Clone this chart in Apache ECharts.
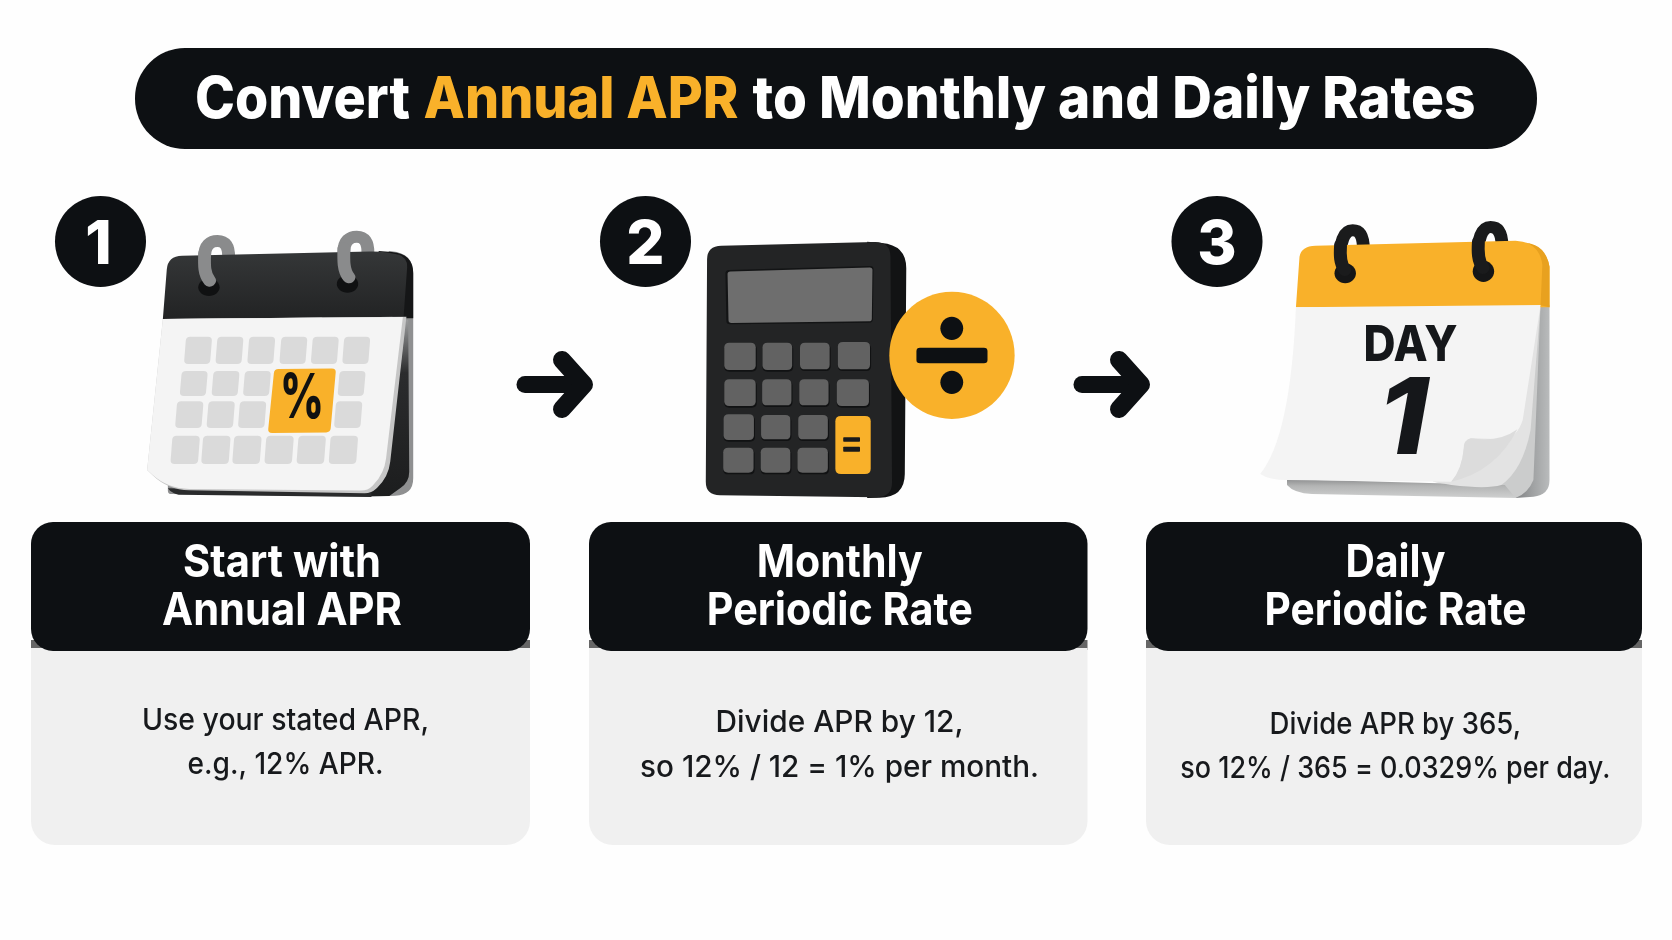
<!DOCTYPE html>
<html>
<head>
<meta charset="utf-8">
<style>html,body{margin:0;padding:0;background:#fefefe}#chart-container{width:1672px;height:940px}</style>
<script src="https://cdn.jsdelivr.net/npm/echarts@6/dist/echarts.min.js"></script>
</head>
<body>
<div id="chart-container"></div>
<script>
var titleRuns = ['Convert', 'Annual APR', 'to Monthly and Daily Rates'];
var stepNumbers = ['1', '2', '3'];
var headerLines = [['Start with', 'Annual APR'], ['Monthly', 'Periodic Rate'], ['Daily', 'Periodic Rate']];
var bodyLines = [
  ['Use your stated APR,', 'e.g., 12% APR.'],
  ['Divide APR by 12,', 'so 12% / 12 = 1% per month.'],
  ['Divide APR by 365,', 'so 12% / 365 = 0.0329% per day.']
];
var dayLabel = 'DAY';
var dayNumber = '1';
var percentSign = '%';

var BLACK = '#0d1013';
var AMBER = '#f9b12a';
var FONT = 'Inter';

var dom = document.getElementById('chart-container');
var myChart = echarts.init(dom, null, { renderer: 'canvas' });

// small path shape, the graphic component has no plain svg-like path
echarts.graphic.registerShape('sketch', echarts.graphic.extendShape({
  type: 'sketch',
  shape: { d: '' },
  buildPath: function (ctx, shape) {
    var t = shape.d.trim().split(/\s+/);
    var i = 0;
    while (i < t.length) {
      var c = t[i++];
      if (c === 'M') { ctx.moveTo(+t[i], +t[i + 1]); i += 2; }
      else if (c === 'L') { ctx.lineTo(+t[i], +t[i + 1]); i += 2; }
      else if (c === 'Q') { ctx.quadraticCurveTo(+t[i], +t[i + 1], +t[i + 2], +t[i + 3]); i += 4; }
      else if (c === 'C') { ctx.bezierCurveTo(+t[i], +t[i + 1], +t[i + 2], +t[i + 3], +t[i + 4], +t[i + 5]); i += 6; }
      else if (c === 'Z') { ctx.closePath(); }
    }
  }
}));

function path(d, fill, stroke, width) {
  var style = { fill: fill || 'none' };
  if (stroke) {
    style.stroke = stroke;
    style.lineWidth = width;
    style.lineCap = 'round';
    style.lineJoin = 'round';
  }
  return { type: 'sketch', shape: { d: d }, style: style, silent: true };
}

// polygon with rounded corners, each point is [x, y, radius]
function round(pts) {
  var d = '';
  var n = pts.length;
  pts.forEach(function (p, i) {
    var a = pts[(i + n - 1) % n];
    var b = pts[(i + 1) % n];
    var r = p[2] || 0;
    var la = Math.hypot(a[0] - p[0], a[1] - p[1]);
    var lb = Math.hypot(b[0] - p[0], b[1] - p[1]);
    var sx = p[0] + (a[0] - p[0]) * r / la;
    var sy = p[1] + (a[1] - p[1]) * r / la;
    var ex = p[0] + (b[0] - p[0]) * r / lb;
    var ey = p[1] + (b[1] - p[1]) * r / lb;
    d += (i === 0 ? 'M ' : 'L ') + sx + ' ' + sy + ' Q ' + p[0] + ' ' + p[1] + ' ' + ex + ' ' + ey + ' ';
  });
  return d + 'Z';
}

function box(x0, y0, x1, y1, r, skew) {
  var s = skew || 0;
  return round([[x0 + s, y0, r], [x1 + s, y0, r], [x1, y1, r], [x0, y1, r]]);
}

function ellipse(cx, cy, rx, ry, fill) {
  return { type: 'ellipse', shape: { cx: cx, cy: cy, rx: rx, ry: ry }, style: { fill: fill }, silent: true };
}

function grad(x2, y2, stops) {
  return {
    type: 'linear', x: 0, y: 0, x2: x2, y2: y2,
    colorStops: stops.map(function (s) { return { offset: s[0], color: s[1] }; })
  };
}

var meas = document.createElement('canvas').getContext('2d');

// text placed by centre and baseline, squeezed to the width
function label(str, cx, base, size, weight, color, width, italic) {
  var font = (italic ? 'italic ' : '') + weight + ' ' + size + 'px ' + FONT;
  meas.font = font;
  var sx = width ? width / meas.measureText(str).width : 1;
  return {
    type: 'text', x: cx, y: base - 0.364 * size + 3, scaleX: sx, silent: true,
    style: {
      text: str, x: 0, y: 0, align: 'center', verticalAlign: 'middle',
      fontFamily: FONT, fontSize: size, fontWeight: weight, fontStyle: italic ? 'italic' : 'normal', fill: color
    }
  };
}

// the icons are measured in the 2.8x / 3x crops, so each one is a scaled group
function icon(originX, children) {
  return { type: 'group', x: originX, y: 170, scaleX: 1 / 2.8, scaleY: 1 / 3, children: children, silent: true };
}

function calendarOne() {
  var c = [];
  var ring = '#8a8b8c';
  // back sheet, gray with the dark inside
  c.push(path(round([[1090, 243, 0], [1157, 250, 60], [1157, 975, 50], [1040, 980, 0], [470, 972, 10], [470, 900, 0]]), '#8f9091'));
  c.push(path(round([[1137, 450, 0], [1143, 450, 0], [1146, 935, 30], [1090, 978, 0], [1030, 978, 0], [1085, 900, 0]]),
    grad(0, 1, [[0, '#9a9b9c'], [0.3, '#2b2c2d'], [1, '#1c1d1e']])));
  c.push(path('M 470 955 L 1040 965 L 1040 981 L 500 974 Q 480 970 470 955 Z', '#2a2b2c'));
  // ring arches sit behind the header
  c.push(path('M 573 265 C 571 222 592 213 609 213 C 630 213 641 228 640 262', null, ring, 36));
  c.push(path('M 963 250 C 961 210 982 200 999 200 C 1020 200 1031 216 1030 250', null, ring, 36));
  c.push(path(round([[1060, 243, 0], [1157, 250, 60], [1157, 445, 0], [1100, 445, 0]]), '#151617'));
  c.push(path(round([[456, 447, 0], [470, 258, 40], [1085, 243, 50], [1142, 262, 30], [1130, 440, 0]]),
    grad(0, 1, [[0, '#353738'], [1, '#222324']])));
  c.push(ellipse(585, 352, 30, 26, '#101112'));
  c.push(ellipse(973, 342, 30, 26, '#101112'));
  c.push(path('M 587 332 C 571 312 572 285 573 250', null, ring, 36));
  c.push(path('M 977 322 C 961 302 962 270 963 235', null, ring, 36));
  // page with its gray edge
  c.push(path(round([[456, 447, 0], [1138, 440, 0], [1088, 920, 45], [1040, 970, 20], [470, 960, 60], [412, 900, 0]]), '#c6c6c6'));
  c.push(path(round([[456, 447, 0], [1128, 441, 0], [1076, 910, 45], [1030, 962, 20], [470, 956, 60], [412, 900, 0]]), '#f4f4f4'));
  var rows = [
    { y0: 500, y1: 582, xs: [515, 603, 692, 782, 870, 958], w: 73 },
    { y0: 603, y1: 678, xs: [503, 592, 680, null, null, 945], w: 73 },
    { y0: 694, y1: 774, xs: [490, 578, 666, null, null, 935], w: 74 },
    { y0: 797, y1: 882, xs: [477, 563, 650, 740, 830, 920], w: 77 }
  ];
  rows.forEach(function (row) {
    row.xs.forEach(function (x) {
      if (x !== null) c.push(path(box(x, row.y0, x + row.w, row.y1, 12, 6), '#dadada'));
    });
  });
  c.push(path(round([[768, 597, 12], [941, 595, 12], [925, 787, 12], [750, 789, 12]]), AMBER));
  return icon(0, c);
}

function calculator() {
  var c = [];
  c.push(path(round([[860, 215, 0], [970, 225, 70], [965, 982, 70], [860, 984, 0]]), '#121314'));
  c.push(path(round([[412, 228, 40], [925, 215, 45], [930, 982, 45], [408, 975, 40]]), '#232425'));
  c.push(path(round([[463, 300, 10], [878, 288, 10], [876, 458, 10], [466, 463, 10]]), '#131415'));
  c.push(path(round([[469, 305, 8], [875, 292, 8], [873, 454, 8], [472, 459, 8]]), '#6e6e6e'));
  var keys = [
    [460, 518, 548, 600], [567, 518, 650, 600], [672, 518, 755, 598], [778, 516, 868, 598],
    [460, 628, 548, 708], [566, 628, 648, 706], [670, 628, 752, 706], [775, 628, 865, 708],
    [458, 733, 543, 810], [563, 735, 645, 808], [667, 735, 750, 808],
    [457, 833, 542, 908], [562, 833, 645, 908], [665, 833, 750, 908]
  ];
  keys.forEach(function (k) {
    c.push(path(box(k[0], k[1] + 5, k[2] + 3, k[3] + 5, 14), '#111213'));
    c.push(path(box(k[0], k[1], k[2], k[3], 14), '#626262'));
  });
  c.push(path(box(771, 738, 870, 912, 16), AMBER));
  c.push(path(box(793, 802, 840, 815, 2), '#1a1a1a'));
  c.push(path(box(793, 830, 840, 845, 2), '#1a1a1a'));
  c.push(ellipse(1097.5, 556, 175.5, 191, AMBER));
  c.push(path(box(998, 533, 1197, 580, 10), BLACK));
  c.push(ellipse(1097, 475, 32, 35, BLACK));
  c.push(ellipse(1097, 637, 32, 35, BLACK));
  return icon(560, c);
}

function calendarThree() {
  var c = [];
  var ring = '#1a1b1c';
  // back sheet and the stack of pages
  c.push(path('M 1150 400 L 1225 405 L 1225 930 Q 1225 975 1180 980 L 1130 984 Z', grad(1, 0, [[0, '#808284'], [0.5, '#9fa1a2'], [1, '#b9bbbc']])));
  c.push(path('M 1200 405 L 1180 930 Q 1165 970 1130 984 L 1050 960 L 900 935 Z', '#cbcccc'));
  c.push(path('M 490 928 L 1100 945 L 1130 984 L 560 972 Q 510 970 490 945 Z', grad(0, 1, [[0, '#8f9091'], [0.35, '#b3b4b4'], [1, '#cfd0d0']])));
  c.push(path('M 1200 405 L 1172 780 Q 1150 900 1090 945 Q 1050 958 950 945 L 900 935 Z', '#e3e3e3'));
  // ring arches sit behind the amber header
  c.push(path('M 640 290 C 634 212 652 181 674 181 C 695 181 704 198 704 240', null, ring, 36));
  c.push(path('M 1026 280 C 1020 202 1038 171 1060 171 C 1081 171 1092 188 1092 230', null, ring, 36));
  c.push(path('M 515 412 L 525 260 Q 530 228 570 227 L 1130 212 Q 1215 220 1225 290 L 1225 412 Z', AMBER));
  c.push(path('M 1160 218 Q 1215 225 1225 290 L 1225 412 L 1200 406 L 1205 285 Q 1200 235 1160 218 Z', '#e8a11f'));
  c.push(ellipse(653, 310, 30, 30, '#151617'));
  c.push(ellipse(1040, 304, 30, 32, '#151617'));
  c.push(path('M 652 300 C 638 280 638 255 640 225', null, ring, 36));
  c.push(path('M 1039 294 C 1024 272 1024 245 1026 215', null, ring, 36));
  // front page with the curled corner
  c.push(path('M 515 412 L 1200 405 L 1150 750 Q 1135 800 1100 808 L 1005 805 Q 985 810 985 835 Q 980 900 950 935 L 490 930 Q 440 930 415 912 Q 500 800 515 412 Z', '#f4f4f4'));
  c.push(path('M 1005 805 Q 1085 818 1135 778 Q 1075 905 950 935 Q 980 900 985 835 Q 985 810 1005 805 Z', '#dcdcdc'));
  return icon(1112, c);
}

var elements = [];

// title pill and the three title runs
elements.push({ type: 'rect', shape: { x: 135, y: 48, width: 1402, height: 101, r: 50 }, style: { fill: BLACK }, silent: true });
elements.push(label(titleRuns[0], 302.5, 119, 58, 800, '#ffffff', 215));
elements.push(label(titleRuns[1], 581, 119, 58, 800, AMBER, 315));
elements.push(label(titleRuns[2], 1114, 119, 58, 800, '#ffffff', 723));

// step badges
var badgeX = [100.5, 645.5, 1217];
var badgeShift = [-2, 0, 0];
stepNumbers.forEach(function (num, i) {
  elements.push({ type: 'circle', shape: { cx: badgeX[i], cy: 241.5, r: 45.5 }, style: { fill: BLACK }, silent: true });
  elements.push(label(num, badgeX[i] + badgeShift[i], 264.5, 60, 800, '#ffffff'));
});

// icons
elements.push(calendarOne());
elements.push(label(percentSign, 302, 419, 62, 800, '#111111', 44));
elements.push(calculator());
elements.push(calendarThree());
elements.push(label(dayLabel, 1410.5, 361, 50, 800, '#15171a', 94));
elements.push(label(dayNumber, 1403, 458, 106, 800, '#15171a', 50, true));

// arrows between the steps
[517, 1074].forEach(function (x) {
  elements.push(path('M ' + (x + 8) + ' 384.5 L ' + (x + 62) + ' 384.5', null, BLACK, 17));
  elements.push(path('M ' + (x + 45) + ' 360 L ' + (x + 67) + ' 384.5 L ' + (x + 45) + ' 409', null, BLACK, 18));
});

// cards
var cardX = [[31, 530], [589, 1087.5], [1146, 1642]];
var cardBody = [
  [{ w: 287, y: 729 }, { w: 196, y: 773 }],
  [{ w: 248, y: 731 }, { w: 399, y: 776 }],
  [{ w: 251.5, y: 733 }, { w: 430, y: 777 }]
];
var bodyShift = [5, 1.3, 1.3];
var cardHead = [[198, 240], [166, 266], [100, 262]];
cardX.forEach(function (c, i) {
  var w = c[1] - c[0];
  var mid = (c[0] + c[1]) / 2;
  elements.push({ type: 'rect', shape: { x: c[0], y: 640, width: w, height: 10 }, style: { fill: '#666666' }, silent: true });
  elements.push({ type: 'rect', shape: { x: c[0], y: 648, width: w, height: 197, r: [0, 0, 24, 24] }, style: { fill: '#f0f0f0' }, silent: true });
  elements.push({ type: 'rect', shape: { x: c[0], y: 522, width: w, height: 129, r: 22 }, style: { fill: BLACK }, silent: true });
  headerLines[i].forEach(function (line, j) {
    elements.push(label(line, mid + 1.5, j === 0 ? 577 : 625, 45, 700, '#ffffff', cardHead[i][j]));
  });
  bodyLines[i].forEach(function (line, j) {
    elements.push(label(line, mid + bodyShift[i], cardBody[i][j].y, 30, 500, '#17191c', cardBody[i][j].w));
  });
});

var option = {
  backgroundColor: '#fefefe',
  animation: false,
  graphic: { elements: elements }
};

myChart.setOption(option);
window.addEventListener('resize', myChart.resize);
</script>
</body>
</html>
